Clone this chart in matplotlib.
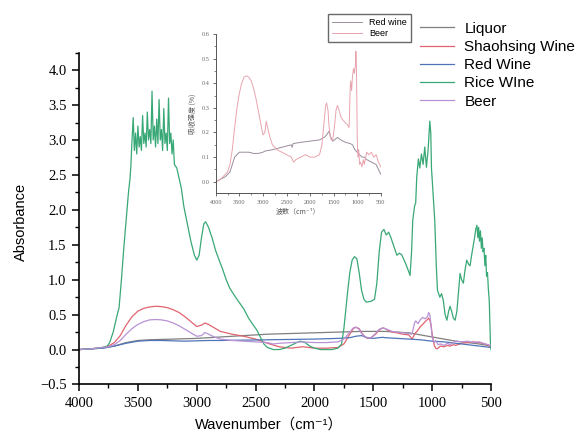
import matplotlib
matplotlib.use("Agg")
import matplotlib.pyplot as plt
from matplotlib.ticker import MultipleLocator

# ---- main spectra (wavenumber, absorbance) ----
liquor_x = [4000, 3900, 3800, 3700, 3600, 3500, 3400, 3200, 3000, 2800, 2600, 2400, 2200, 2000,
            1800, 1600, 1400, 1300, 1200, 1100, 1000, 900, 800, 700, 600, 500]
liquor_y = [0.0, 0.01, 0.02, 0.05, 0.1, 0.13, 0.14, 0.15, 0.16, 0.18, 0.2, 0.22, 0.23, 0.24,
            0.25, 0.26, 0.26, 0.25, 0.24, 0.21, 0.18, 0.15, 0.12, 0.1, 0.08, 0.05]

shaohsing_x = [4000, 3900, 3800, 3750, 3700, 3650, 3600, 3550, 3500, 3450, 3400, 3350, 3300, 3250,
               3200, 3150, 3100, 3050, 3000, 2960, 2930, 2900, 2850, 2800, 2700, 2600, 2500, 2400,
               2300, 2200, 2100, 2000, 1900, 1800, 1750, 1700, 1670, 1650, 1620, 1600, 1570, 1550,
               1520, 1480, 1450, 1420, 1400, 1370, 1340, 1300, 1250, 1200, 1180, 1170, 1150, 1120,
               1100, 1080, 1060, 1040, 1030, 1020, 1010, 1000, 990, 980, 970, 960, 950, 930, 900,
               870, 850, 820, 800, 750, 700, 650, 600, 550, 500]
shaohsing_y = [0.0, 0.01, 0.03, 0.05, 0.1, 0.2, 0.35, 0.47, 0.55, 0.59, 0.61, 0.62, 0.615, 0.6,
               0.57, 0.53, 0.47, 0.4, 0.33, 0.35, 0.38, 0.36, 0.31, 0.26, 0.22, 0.19, 0.15, 0.09,
               0.04, 0.02, 0.04, 0.02, 0.02, 0.03, 0.08, 0.22, 0.3, 0.32, 0.3, 0.24, 0.18, 0.16,
               0.17, 0.22, 0.28, 0.31, 0.3, 0.27, 0.25, 0.24, 0.22, 0.21, 0.17, 0.15, 0.22, 0.28,
               0.33, 0.36, 0.4, 0.43, 0.45, 0.42, 0.35, 0.22, 0.12, 0.05, 0.02, 0.01, 0.02, 0.05, 0.04,
               0.06, 0.05, 0.07, 0.06, 0.09, 0.1, 0.11, 0.1, 0.08, 0.04]

redwine_x = [4000, 3900, 3800, 3700, 3600, 3500, 3400, 3300, 3200, 3100, 3000, 2900, 2800, 2600,
             2400, 2200, 2000, 1800, 1700, 1650, 1600, 1550, 1500, 1450, 1420, 1400, 1300, 1200,
             1100, 1050, 1000, 900, 800, 700, 600, 500]
redwine_y = [0.0, 0.01, 0.02, 0.05, 0.09, 0.12, 0.13, 0.13, 0.125, 0.12, 0.125, 0.13, 0.13, 0.135,
             0.14, 0.145, 0.15, 0.16, 0.17, 0.19, 0.2, 0.17, 0.16, 0.17, 0.175, 0.17, 0.16, 0.15,
             0.14, 0.13, 0.12, 0.11, 0.09, 0.07, 0.05, 0.03]

ricewine_x = [4000, 3900, 3800, 3760, 3740, 3710, 3680, 3660, 3640, 3620, 3600, 3580, 3567,
              3560, 3550, 3540, 3530, 3520, 3510, 3500, 3490, 3480, 3470, 3460, 3450, 3440, 3430,
              3420, 3410, 3400, 3390, 3380, 3370, 3360, 3350, 3340, 3330, 3320, 3310, 3300, 3290,
              3280, 3270, 3260, 3250, 3240, 3230, 3220, 3210, 3200, 3190, 3170, 3150, 3130, 3110,
              3080, 3050, 3020, 3000, 2980, 2960, 2940, 2925, 2900, 2870, 2840, 2810, 2780, 2750,
              2720, 2690, 2650, 2600, 2560, 2520, 2490, 2460, 2430, 2400, 2350, 2300, 2250, 2200,
              2150, 2120, 2080, 2040, 2000, 1950, 1900, 1850, 1800, 1770, 1750, 1720, 1700, 1680,
              1660, 1640, 1620, 1600, 1580, 1560, 1520, 1490, 1470, 1450, 1430, 1410, 1390, 1370,
              1350, 1320, 1300, 1280, 1260, 1230, 1200, 1188, 1175, 1165, 1150, 1140, 1131, 1117,
              1105, 1091, 1077, 1063, 1049, 1035, 1020, 1012, 1006, 992, 978, 965, 955, 935, 920,
              905, 890, 875, 860, 848, 835, 820, 805, 790, 775, 763, 750, 735, 720, 706, 690, 678,
              665, 650, 640, 630, 620, 612, 605, 598, 590, 582, 575, 568, 560, 552, 545, 538, 530,
              522, 515, 510, 505, 500]
ricewine_y = [0.0, 0.01, 0.03, 0.05, 0.1, 0.25, 0.47, 0.6, 1.0, 1.45, 1.85, 2.25, 2.45,
              2.62, 3.0, 3.32, 2.85, 3.1, 2.8, 3.2, 2.9, 3.05, 2.85, 3.35, 2.95, 3.1, 2.9,
              3.4, 3.0, 3.15, 2.95, 3.7, 3.0, 3.2, 2.9, 3.3, 2.95, 3.58, 3.0, 3.15, 2.85,
              3.45, 2.95, 3.1, 2.85, 3.6, 2.95, 3.1, 2.8, 3.0, 2.65, 2.6, 2.45, 2.3, 2.05,
              1.8, 1.55, 1.35, 1.28, 1.35, 1.6, 1.8, 1.83, 1.75, 1.6, 1.42, 1.28, 1.15, 1.0,
              0.88, 0.8, 0.7, 0.58, 0.45, 0.35, 0.28, 0.18, 0.08, 0.03, 0.0, 0.0, 0.02, 0.06,
              0.1, 0.12, 0.1, 0.05, 0.02, 0.0, 0.0, 0.0, 0.02, 0.08, 0.3, 0.8, 1.1, 1.28,
              1.33, 1.3, 1.1, 0.85, 0.72, 0.68, 0.69, 0.72, 0.95, 1.4, 1.68, 1.72, 1.64, 1.68,
              1.6, 1.45, 1.35, 1.38, 1.36, 1.25, 1.12, 1.06, 1.4, 1.85, 2.05, 2.1, 2.47, 2.73,
              2.6, 2.8, 2.65, 2.9, 2.61, 2.85, 3.27, 3.1, 2.6, 2.23, 1.85, 1.2, 0.85, 0.75, 0.8,
              0.7, 0.5, 0.42, 0.55, 0.62, 0.55, 0.45, 0.42, 0.55, 0.85, 1.09, 1.0, 0.95, 1.15, 1.28, 1.22, 1.2,
              1.35, 1.5, 1.6, 1.72, 1.78, 1.6, 1.75, 1.55, 1.7, 1.45, 1.6, 1.4, 1.45, 1.2, 1.35, 1.05, 1.1,
              0.85, 0.7, 0.4, 0.1, 0.0]

beer_x = [4000, 3900, 3800, 3750, 3700, 3650, 3600, 3550, 3500, 3450, 3400, 3350, 3300, 3250,
          3200, 3150, 3100, 3050, 3000, 2960, 2930, 2900, 2850, 2800, 2700, 2600, 2500, 2400,
          2350, 2300, 2200, 2100, 2000, 1900, 1800, 1750, 1700, 1670, 1650, 1620, 1600, 1570,
          1550, 1520, 1480, 1450, 1420, 1400, 1370, 1340, 1300, 1250, 1200, 1180, 1170, 1150,
          1140, 1120, 1100, 1080, 1060, 1040, 1030, 1020, 1010, 1000, 990, 980, 970, 960, 950,
          930, 900, 870, 850, 820, 800, 750, 700, 650, 600, 550, 500]
beer_y = [0.0, 0.01, 0.03, 0.04, 0.07, 0.13, 0.22, 0.3, 0.36, 0.4, 0.425, 0.43, 0.425, 0.41,
          0.38, 0.34, 0.29, 0.24, 0.19, 0.2, 0.245, 0.22, 0.18, 0.15, 0.13, 0.12, 0.11, 0.1,
          0.08, 0.09, 0.1, 0.11, 0.1, 0.1, 0.11, 0.15, 0.25, 0.31, 0.32, 0.29, 0.23, 0.18,
          0.17, 0.17, 0.23, 0.29, 0.31, 0.3, 0.28, 0.26, 0.25, 0.24, 0.23, 0.22, 0.23, 0.38,
          0.41, 0.37, 0.43, 0.46, 0.44, 0.47, 0.53, 0.5, 0.35, 0.18, 0.12, 0.1, 0.13, 0.1, 0.07,
          0.08, 0.06, 0.09, 0.07, 0.1, 0.12, 0.11, 0.12, 0.1, 0.11, 0.08, 0.06]

# ---- inset (red wine vs beer, pasted figure) ----
inset_red_x = [4000, 3900, 3800, 3750, 3700, 3650, 3600, 3500, 3400, 3300, 3200, 3100, 3000, 2950,
               2800, 2600, 2500, 2400, 2380, 2360, 2200, 2000, 1800, 1700, 1650, 1600, 1560, 1520,
               1480, 1420, 1350, 1250, 1150, 1100, 1050, 1000, 950, 900, 850, 800, 700, 600, 550, 500]
inset_red_y = [0.0, 0.01, 0.02, 0.03, 0.04, 0.07, 0.1, 0.12, 0.12, 0.12, 0.115, 0.115, 0.12, 0.125,
               0.13, 0.14, 0.145, 0.15, 0.14, 0.155, 0.16, 0.165, 0.17, 0.18, 0.19, 0.205, 0.18, 0.165,
               0.17, 0.18, 0.17, 0.16, 0.155, 0.15, 0.13, 0.12, 0.11, 0.1, 0.1, 0.09, 0.08, 0.07, 0.05, 0.03]

series = [
    ("Liquor", liquor_x, liquor_y, "#7f7f7f"),
    ("Shaohsing Wine", shaohsing_x, shaohsing_y, "#e06470"),
    ("Red Wine", redwine_x, redwine_y, "#4f74b8"),
    ("Rice WIne", ricewine_x, ricewine_y, "#38a876"),
    ("Beer", beer_x, beer_y, "#b892d6"),
]

serif = ["Liberation Serif", "DejaVu Serif"]
sans = ["Liberation Sans", "DejaVu Sans", "Noto Sans CJK SC"]
cjk = ["Noto Sans CJK SC", "DejaVu Sans"]

fig = plt.figure(figsize=(5.77, 4.32), dpi=100)
ax = fig.add_axes([0.137, 0.110, 0.714, 0.768])

lines = []
for name, xs, ys, c in series:
    ln, = ax.plot(xs, ys, color=c, lw=0.9, label=name)
    lines.append(ln)

ax.set_xlim(4000, 500)
ax.set_ylim(-0.5, 4.25)
ax.xaxis.set_major_locator(MultipleLocator(500))
ax.xaxis.set_minor_locator(MultipleLocator(250))
ax.yaxis.set_minor_locator(MultipleLocator(0.25))
ax.set_yticks([-0.5, 0, 0.5, 1.0, 1.5, 2.0, 2.5, 3.0, 3.5, 4.0])
ax.yaxis.set_major_formatter(plt.FuncFormatter(lambda v, p: f"{v:.1f}".replace("-", "\u2212")))
ax.spines["top"].set_visible(False)
ax.spines["right"].set_visible(False)
for s in ("left", "bottom"):
    ax.spines[s].set_linewidth(1.2)
ax.tick_params(which="major", direction="out", length=5, width=1.1, labelsize=10.5, pad=4)
ax.tick_params(which="minor", direction="out", length=3, width=1.0)
for lab in ax.get_xticklabels() + ax.get_yticklabels():
    lab.set_family(serif)

ax.set_ylabel("Absorbance", family=sans, fontsize=10.5)
ax.yaxis.set_label_coords(-0.125, 0.49)
ax.set_xlabel("Wavenumber（cm⁻¹）", family=sans, fontsize=10.5)
ax.xaxis.set_label_coords(0.46, -0.10)

fig.legend(handles=lines, loc="upper left", bbox_to_anchor=(0.728, 0.950),
           frameon=False, prop={"family": sans, "size": 11}, handlelength=2.2,
           handletextpad=0.7, labelspacing=0.28, borderpad=0, borderaxespad=0)

# ---- inset ----
ins = fig.add_axes([0.374, 0.5525, 0.286, 0.3688])
l1, = ins.plot(inset_red_x, inset_red_y, color="#9a8c9c", lw=0.7, label="Red wine")
l2, = ins.plot(beer_x, beer_y, color="#e8a4ae", lw=0.7, label="Beer")
ins.set_xlim(4000, 500)
ins.set_ylim(-0.047, 0.6)
ins.xaxis.set_major_locator(MultipleLocator(500))
ins.xaxis.set_minor_locator(MultipleLocator(250))
ins.yaxis.set_minor_locator(MultipleLocator(0.05))
ins.set_yticks([0.0, 0.1, 0.2, 0.3, 0.4, 0.5, 0.6])
ins.spines["top"].set_visible(False)
ins.spines["right"].set_visible(False)
for s in ("left", "bottom"):
    ins.spines[s].set_linewidth(0.7)
    ins.spines[s].set_color("#555555")
ins.tick_params(which="major", direction="out", length=2.5, width=0.6, labelsize=4.5,
                pad=2, colors="#555555", labelcolor="#666666")
ins.tick_params(which="minor", direction="out", length=1.5, width=0.5, colors="#555555")
for lab in ins.get_xticklabels() + ins.get_yticklabels():
    lab.set_family(serif)
ins.set_ylabel("吸收强度 (%)", family=cjk, fontsize=5, color="#555555", labelpad=4)
ins.set_xlabel("波数（cm⁻¹）", family=cjk, fontsize=5, color="#555555", labelpad=2)
ins.legend(handles=[l1, l2], loc="upper left", bbox_to_anchor=(0.569, 0.968),
           bbox_transform=fig.transFigure, frameon=True, fancybox=False,
           edgecolor="#444444", prop={"family": sans, "size": 6.5}, handlelength=3.3,
           handletextpad=0.8, labelspacing=0.25, borderpad=0.45, borderaxespad=0)

fig.savefig("out.png", dpi=100)
